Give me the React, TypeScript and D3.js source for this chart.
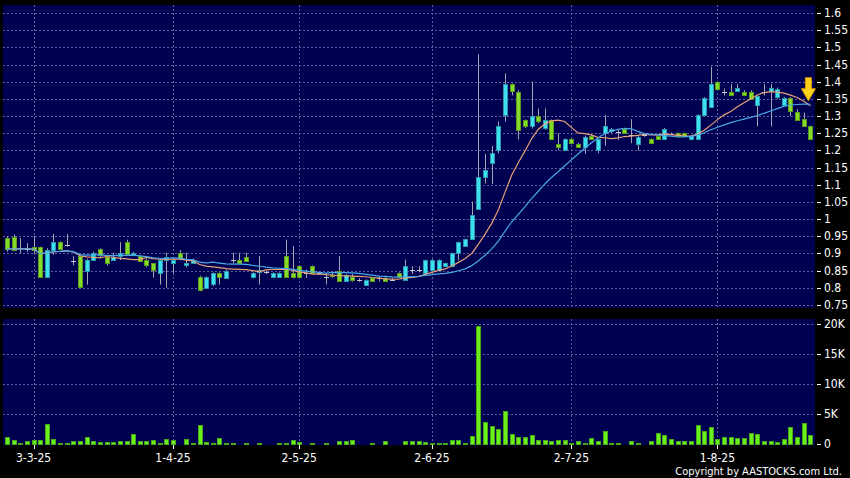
import React from 'react';
import * as d3 from 'd3';

// ---- data (index -4 .. 117, one entry per trading day) ----
const firstIndex = -4;
const opens = [
  0.945, 0.949, 0.915, 0.912, 0.920, 0.918, 0.831, 0.911, 0.933, 0.924,
  0.879, 0.892, 0.850, 0.882, 0.912, 0.889, 0.881, 0.893, 0.933, 0.897,
  0.893, 0.880, 0.871, 0.843, 0.882, 0.871, 0.901, 0.864, 0.873, 0.831,
  0.800, 0.809, 0.842, 0.831, 0.880, 0.881, 0.891, 0.831, 0.844, 0.845,
  0.831, 0.831, 0.892, 0.843, 0.863, 0.843, 0.863, 0.843, 0.831, 0.838,
  0.850, 0.821, 0.831, 0.824, 0.809, 0.830, 0.828, 0.830, 0.824, 0.842,
  0.821, 0.851, 0.851, 0.842, 0.852, 0.852, 0.862, 0.862, 0.900, 0.922,
  0.941, 1.032, 1.122, 1.162, 1.201, 1.303, 1.392, 1.371, 1.288, 1.271,
  1.300, 1.264, 1.288, 1.219, 1.201, 1.232, 1.219, 1.211, 1.242, 1.201,
  1.250, 1.255, 1.255, 1.261, 1.245, 1.221, 1.245, 1.232, 1.242, 1.232,
  1.248, 1.250, 1.250, 1.232, 1.232, 1.303, 1.327, 1.400, 1.371, 1.371,
  1.371, 1.371, 1.371, 1.332, 1.371, 1.371, 1.355, 1.332, 1.352, 1.313,
  1.291, 1.271,
];
const highs = [
  0.950, 0.955, 0.945, 0.930, 0.951, 0.920, 0.915, 0.957, 0.935, 0.957,
  0.892, 0.895, 0.885, 0.905, 0.915, 0.890, 0.902, 0.933, 0.940, 0.905,
  0.895, 0.885, 0.872, 0.885, 0.902, 0.885, 0.910, 0.902, 0.885, 0.835,
  0.833, 0.845, 0.845, 0.853, 0.902, 0.902, 0.902, 0.845, 0.893, 0.850,
  0.845, 0.845, 0.940, 0.921, 0.865, 0.853, 0.865, 0.845, 0.843, 0.845,
  0.892, 0.840, 0.840, 0.828, 0.825, 0.832, 0.835, 0.832, 0.828, 0.845,
  0.882, 0.863, 0.863, 0.882, 0.883, 0.883, 0.873, 0.902, 0.934, 0.943,
  1.051, 1.480, 1.190, 1.213, 1.284, 1.424, 1.395, 1.375, 1.290, 1.400,
  1.322, 1.322, 1.290, 1.250, 1.235, 1.235, 1.222, 1.243, 1.245, 1.235,
  1.303, 1.265, 1.260, 1.265, 1.291, 1.245, 1.250, 1.235, 1.245, 1.265,
  1.252, 1.252, 1.252, 1.245, 1.305, 1.355, 1.444, 1.400, 1.380, 1.393,
  1.393, 1.375, 1.375, 1.360, 1.393, 1.393, 1.383, 1.355, 1.355, 1.320,
  1.310, 1.272,
];
const lows = [
  0.905, 0.910, 0.900, 0.905, 0.900, 0.830, 0.830, 0.897, 0.912, 0.920,
  0.866, 0.800, 0.809, 0.878, 0.890, 0.865, 0.878, 0.881, 0.895, 0.892,
  0.875, 0.860, 0.830, 0.809, 0.800, 0.843, 0.880, 0.860, 0.870, 0.790,
  0.797, 0.805, 0.809, 0.828, 0.871, 0.870, 0.877, 0.828, 0.809, 0.840,
  0.828, 0.830, 0.830, 0.828, 0.830, 0.829, 0.840, 0.840, 0.810, 0.829,
  0.820, 0.818, 0.818, 0.818, 0.806, 0.818, 0.818, 0.818, 0.820, 0.829,
  0.820, 0.840, 0.845, 0.840, 0.850, 0.850, 0.860, 0.860, 0.880, 0.920,
  0.940, 1.030, 1.104, 1.102, 1.192, 1.284, 1.360, 1.232, 1.265, 1.264,
  1.280, 1.260, 1.230, 1.201, 1.200, 1.218, 1.210, 1.190, 1.230, 1.192,
  1.213, 1.250, 1.230, 1.248, 1.221, 1.200, 1.240, 1.218, 1.230, 1.230,
  1.245, 1.240, 1.240, 1.230, 1.230, 1.300, 1.325, 1.380, 1.360, 1.358,
  1.370, 1.358, 1.350, 1.270, 1.360, 1.270, 1.350, 1.330, 1.300, 1.290,
  1.270, 1.230,
];
const closes = [
  0.914, 0.912, 0.915, 0.912, 0.912, 0.831, 0.911, 0.933, 0.914, 0.924,
  0.879, 0.802, 0.882, 0.902, 0.894, 0.871, 0.889, 0.902, 0.899, 0.902,
  0.879, 0.864, 0.850, 0.882, 0.891, 0.881, 0.885, 0.871, 0.881, 0.794,
  0.831, 0.842, 0.831, 0.850, 0.880, 0.871, 0.879, 0.842, 0.851, 0.845,
  0.842, 0.842, 0.831, 0.831, 0.831, 0.843, 0.843, 0.843, 0.831, 0.836,
  0.821, 0.838, 0.821, 0.824, 0.823, 0.820, 0.828, 0.820, 0.824, 0.831,
  0.863, 0.851, 0.851, 0.880, 0.881, 0.881, 0.871, 0.900, 0.932, 0.941,
  1.012, 1.124, 1.143, 1.192, 1.271, 1.392, 1.371, 1.261, 1.271, 1.300,
  1.284, 1.288, 1.232, 1.211, 1.232, 1.220, 1.211, 1.240, 1.232, 1.232,
  1.271, 1.261, 1.255, 1.250, 1.245, 1.240, 1.245, 1.221, 1.232, 1.261,
  1.248, 1.242, 1.242, 1.242, 1.303, 1.352, 1.393, 1.381, 1.371, 1.361,
  1.381, 1.361, 1.352, 1.358, 1.371, 1.381, 1.379, 1.352, 1.313, 1.291,
  1.271, 1.232,
];
// volume in thousands of shares
const volumes = [
  1.2, 0.7, 0.2, 0.5, 0.6, 0.7, 3.4, 0.8, 0.15, 0.2,
  0.5, 0.5, 1.2, 0.45, 0.3, 0.3, 0.3, 0.5, 0.45, 1.6,
  0.5, 0.55, 0.7, 0.1, 0.9, 0.6, 0.05, 0.8, 0.1, 3.2,
  0.4, 0.1, 0.95, 0.25, 0.25, 0.05, 0.2, 0.05, 0.2, 0,
  0.05, 0.25, 0.25, 0.6, 0.3, 0, 0.25, 0.05, 0.25, 0,
  0.5, 0.5, 0.6, 0, 0, 0.2, 0.05, 0.45, 0.05, 0,
  0.45, 0.45, 0.5, 0.4, 0.15, 0.2, 0.25, 0.6, 0.6, 0.25,
  1.3, 19.7, 3.6, 3.05, 2.45, 5.5, 1.6, 1.1, 1.1, 1.45,
  0.65, 0.6, 0.45, 0.65, 0.7, 0.1, 0.55, 0.2, 0.95, 0.45,
  2.2, 0.2, 0.2, 0.05, 0.45, 0.25, 0.05, 0.5, 1.8, 1.5,
  0.8, 0.5, 0.5, 0.5, 3.1, 2.2, 2.8, 0.85, 1.1, 1.1,
  0.95, 1.0, 1.9, 1.7, 0.45, 0.5, 0.4, 0.8, 2.9, 1.2,
  3.55, 1.55,
];
const dateTickIndices = [0, 21, 40, 60, 81, 103];
const dateTickLabels = ['3-3-25', '1-4-25', '2-5-25', '2-6-25', '2-7-25', '1-8-25'];
const priceTicks = [0.75, 0.8, 0.85, 0.9, 0.95, 1, 1.05, 1.1, 1.15, 1.2, 1.25, 1.3, 1.35, 1.4, 1.45, 1.5, 1.55, 1.6];
const priceTickLabels = ['0.75', '0.8', '0.85', '0.9', '0.95', '1', '1.05', '1.1', '1.15', '1.2', '1.25', '1.3', '1.35', '1.4', '1.45', '1.5', '1.55', '1.6'];
const volumeTicks = [0, 5, 10, 15, 20];
const volumeTickLabels = ['0', '5K', '10K', '15K', '20K'];
const maPeriods = [10, 20];

// ---- styling ----
const W = 850;
const H = 478;
const PANEL_BG = '#000050';
const GRID = '#5e5e9e';
const UP_FILL = '#3ce0f0';
const UP_STROKE = '#2a98a8';
const DOWN_FILL = '#84dc28';
const DOWN_STROKE = '#5a9a1c';
const WICK = '#a4a4b4';
const VOL_FILL = '#6cf01c';
const VOL_STROKE = '#46a818';
const MA_COLORS = ['#e8a078', '#48a8e8'];
const FONT = "'DejaVu Sans Condensed', 'Liberation Sans Narrow', 'DejaVu Sans', sans-serif";

type Bar = { i: number; o: number; h: number; l: number; c: number; v: number };

export default function App() {
  const bars: Bar[] = opens.map((o, k) => ({
    i: firstIndex + k,
    o,
    h: highs[k],
    l: lows[k],
    c: closes[k],
    v: volumes[k],
  }));
  const lastIndex = firstIndex + bars.length - 1;

  const price = { left: 3, right: 815, top: 5, bottom: 308 };
  const vol = { left: 3, right: 815, top: 319, bottom: 445 };

  const x = d3.scaleLinear().domain([firstIndex, lastIndex]).range([7, 810.4]);
  const yP = d3.scaleLinear().domain([0.75, 1.6]).range([305, 13]);
  const yV = d3.scaleLinear().domain([0, 20]).range([444, 324]);

  const maSeries = maPeriods.map((n) =>
    bars.map((b, k) => ({
      i: b.i,
      v: d3.mean(closes.slice(Math.max(0, k - n + 1), k + 1)) as number,
    }))
  );
  const line = d3
    .line<{ i: number; v: number }>()
    .x((d) => x(d.i))
    .y((d) => yP(d.v));

  const bodyW = 4;
  const lastMA = maSeries[0][maSeries[0].length - 1];
  const ax = x(lastMA.i) - 2;
  const ay = yP(lastMA.v) - 5;

  return (
    <svg
      width={W}
      height={H}
      style={{ position: 'fixed', left: 0, top: 0, display: 'block' }}
      fontFamily={FONT}
    >
      <rect x={0} y={0} width={W} height={H} fill="#000" />
      {/* panels */}
      <rect x={price.left} y={price.top} width={price.right - price.left} height={price.bottom - price.top} fill={PANEL_BG} />
      <rect x={vol.left} y={vol.top} width={vol.right - vol.left} height={vol.bottom - vol.top} fill={PANEL_BG} />

      {/* price grid */}
      <g stroke={GRID} strokeWidth={1} strokeDasharray="2 2" shapeRendering="crispEdges">
        {priceTicks.map((t) => (
          <line key={'pg' + t} x1={price.left} x2={price.right} y1={Math.round(yP(t)) + 0.5} y2={Math.round(yP(t)) + 0.5} />
        ))}
        {dateTickIndices.map((ti) => (
          <line key={'pv' + ti} x1={Math.round(x(ti)) + 0.5} x2={Math.round(x(ti)) + 0.5} y1={price.top} y2={price.bottom} />
        ))}
        {volumeTicks.filter((t) => t > 0).map((t) => (
          <line key={'vg' + t} x1={vol.left} x2={vol.right} y1={Math.round(yV(t)) + 0.5} y2={Math.round(yV(t)) + 0.5} />
        ))}
        {dateTickIndices.map((ti) => (
          <line key={'vv' + ti} x1={Math.round(x(ti)) + 0.5} x2={Math.round(x(ti)) + 0.5} y1={vol.top} y2={vol.bottom} />
        ))}
      </g>

      {/* candles */}
      <g>
        {bars.map((b) => {
          const cx = Math.round(x(b.i));
          const up = b.c > b.o;
          const doji = Math.abs(b.c - b.o) < 0.0015;
          const top = yP(Math.max(b.o, b.c));
          const bot = yP(Math.min(b.o, b.c));
          return (
            <g key={'c' + b.i}>
              <line x1={cx + 0.5} x2={cx + 0.5} y1={yP(b.h)} y2={yP(b.l)} stroke={WICK} strokeWidth={1} />
              {doji ? (
                <line x1={cx - 2} x2={cx + 3} y1={Math.round(top) + 0.5} y2={Math.round(top) + 0.5} stroke="#c8c8c8" strokeWidth={1} />
              ) : (
                <rect
                  x={cx - bodyW / 2 + 0.5}
                  y={Math.round(top) + 0.5}
                  width={bodyW}
                  height={Math.max(1, Math.round(bot - top))}
                  fill={up ? UP_FILL : DOWN_FILL}
                  stroke={up ? UP_STROKE : DOWN_STROKE}
                  strokeWidth={1}
                />
              )}
            </g>
          );
        })}
      </g>

      {/* moving averages */}
      {maSeries.map((s, k) => (
        <path key={'ma' + k} d={line(s) || ''} fill="none" stroke={MA_COLORS[k]} strokeWidth={1.2} />
      ))}

      {/* arrow marker at last bar */}
      <path
        d={`M${ax - 3},${ay - 23} L${ax + 3},${ay - 23} L${ax + 3},${ay - 12} L${ax + 7},${ay - 12} L${ax},${ay} L${ax - 7},${ay - 12} L${ax - 3},${ay - 12} Z`}
        fill="#ffd21a"
        stroke="#d89a00"
        strokeWidth={1}
      />

      {/* volume bars */}
      <g>
        {bars.map((b) => {
          const cx = Math.round(x(b.i));
          const top = Math.round(yV(b.v));
          return (
            <rect
              key={'v' + b.i}
              x={cx - bodyW / 2 + 0.5}
              y={top + 0.5}
              width={bodyW}
              height={Math.max(0, Math.round(yV(0)) - top)}
              fill={VOL_FILL}
              stroke={VOL_STROKE}
              strokeWidth={1}
            />
          );
        })}
      </g>

      {/* right axis: price */}
      <g fill="#fff" fontSize={12}>
        {priceTicks.map((t, k) => (
          <g key={'pt' + t}>
            <line x1={817} x2={821} y1={Math.round(yP(t)) + 0.5} y2={Math.round(yP(t)) + 0.5} stroke="#fff" />
            <text x={824} y={yP(t)} dominantBaseline="central">
              {priceTickLabels[k]}
            </text>
          </g>
        ))}
        {volumeTicks.map((t, k) => (
          <g key={'vt' + t}>
            <line x1={817} x2={821} y1={Math.round(yV(t)) + 0.5} y2={Math.round(yV(t)) + 0.5} stroke="#fff" />
            <text x={824} y={yV(t)} dominantBaseline="central">
              {volumeTickLabels[k]}
            </text>
          </g>
        ))}
      </g>

      {/* bottom date axis */}
      <g fill="#fff" fontSize={12}>
        {dateTickIndices.map((ti, k) => (
          <g key={'dt' + ti}>
            <line x1={Math.round(x(ti)) + 0.5} x2={Math.round(x(ti)) + 0.5} y1={vol.bottom} y2={vol.bottom + 4} stroke="#fff" />
            <text x={x(ti)} y={458} textAnchor="middle" dominantBaseline="central">
              {dateTickLabels[k]}
            </text>
          </g>
        ))}
      </g>

      <text x={842} y={471} textAnchor="end" dominantBaseline="central" fill="#fff" fontSize={11}>
        Copyright by AASTOCKS.com Ltd.
      </text>
    </svg>
  );
}
